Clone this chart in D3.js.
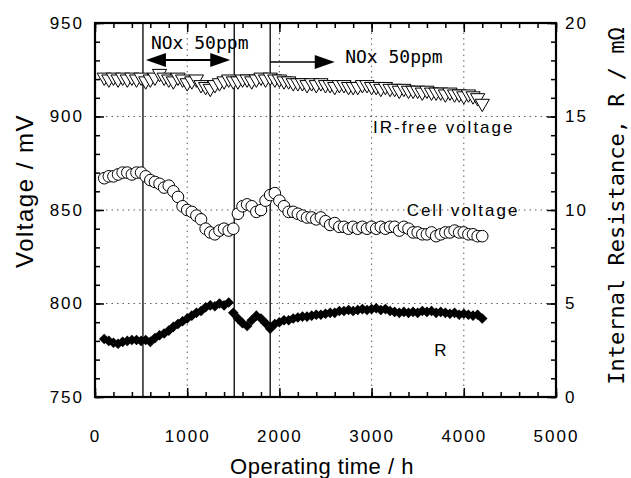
<!DOCTYPE html>
<html lang="en">
<head>
  <meta charset="UTF-8">
  <title>Operating time</title>
  <style>
    html, body { margin: 0; background: #fff; }
    svg { display: block; }
  </style>
</head>
<body>
  <svg id="chart" width="631" height="478"></svg>
  <script src="https://cdn.jsdelivr.net/npm/d3@7"></script>
  <script>
    // operating time (h) for every reading
    var hours = [100, 150, 200, 250, 300, 350, 400, 450, 500, 550, 600, 650, 700, 750, 800, 850, 900, 950,
      1000, 1050, 1100, 1150, 1200, 1250, 1300, 1350, 1400, 1450, 1500, 1550, 1600, 1650, 1700, 1750, 1800, 1850, 1900, 1950,
      2000, 2050, 2100, 2150, 2200, 2250, 2300, 2350, 2400, 2450, 2500, 2550, 2600, 2650, 2700, 2750, 2800, 2850, 2900, 2950,
      3000, 3050, 3100, 3150, 3200, 3250, 3300, 3350, 3400, 3450, 3500, 3550, 3600, 3650, 3700, 3750, 3800, 3850, 3900, 3950,
      4000, 4050, 4100, 4150, 4200]

    // IR-free voltage (mV)
    var irFreeVoltage = [921, 920, 921, 920, 921, 920, 921, 920, 921, 919, 920, 921, 923, 921, 920, 919, 921, 920,
      918, 919, 920, 917, 916, 915, 917, 918, 919, 920, 919, 919, 920, 920, 919, 920, 921, 920, 921, 920,
      920, 919, 919, 918, 918, 918, 917, 918, 917, 918, 917, 917, 916, 917, 917, 916, 916, 916, 917, 917,
      916, 916, 915, 916, 915, 915, 914, 915, 914, 914, 914, 913, 914, 913, 913, 913, 912, 913, 912, 912,
      911, 912, 911, 910, 907]

    // cell voltage (mV)
    var cellVoltage = [867, 868, 868, 869, 870, 870, 869, 870, 870, 868, 866, 865, 864, 862, 863, 860, 857, 852,
      850, 849, 847, 845, 840, 838, 837, 839, 840, 839, 840, 848, 852, 853, 852, 849, 850, 855, 858, 859,
      855, 852, 849, 849, 848, 847, 846, 846, 845, 846, 844, 842, 843, 841, 841, 840, 841, 840, 841, 840,
      841, 840, 841, 840, 841, 841, 839, 841, 840, 838, 838, 837, 837, 838, 836, 837, 838, 838, 839, 838,
      838, 837, 837, 836, 836]

    // internal resistance (mOhm)
    var resistance = [3.1, 3.0, 2.9, 2.85, 2.95, 3.0, 3.05, 3.05, 3.0, 3.05, 2.95, 3.15, 3.3, 3.4, 3.55, 3.75, 3.9, 4.05,
      4.2, 4.35, 4.5, 4.6, 4.8, 4.9, 4.85, 5.0, 4.9, 5.05, 4.5, 4.2, 3.95, 3.8, 4.1, 4.35, 4.2, 3.95, 3.65, 3.9,
      4.0, 4.1, 4.1, 4.2, 4.25, 4.3, 4.3, 4.35, 4.4, 4.4, 4.45, 4.5, 4.5, 4.6, 4.6, 4.65, 4.6, 4.65, 4.7, 4.65,
      4.7, 4.75, 4.65, 4.7, 4.6, 4.55, 4.5, 4.55, 4.5, 4.55, 4.5, 4.6, 4.55, 4.6, 4.5, 4.55, 4.5, 4.45, 4.5, 4.4,
      4.45, 4.4, 4.35, 4.4, 4.2]

    // NOx switching times (h)
    var noxLines = [520, 1510, 1900]

    var xTicks = [0, 1000, 2000, 3000, 4000, 5000]
    var vTicks = [750, 800, 850, 900, 950]
    var rTicks = [0, 5, 10, 15, 20]

    var svg = d3.select('#chart')
    var sans = '"Liberation Sans", Arial, sans-serif'
    var mono = '"DejaVu Sans Mono", monospace'

    var x = d3.scaleLinear().domain([0, 5000]).range([95, 556])
    var yV = d3.scaleLinear().domain([750, 950]).range([397, 23])
    var yR = d3.scaleLinear().domain([0, 20]).range([397, 23])

    var readings = hours.map((h, i) => ({ h: h, ir: irFreeVoltage[i], cell: cellVoltage[i], r: resistance[i] }))

    // dotted grid
    var grid = svg.append('g')
      .attr('stroke', '#333')
      .attr('stroke-width', 0.8)
      .attr('stroke-dasharray', '1.5,4')
    grid.selectAll('.gx')
      .data(xTicks.slice(1, -1))
      .join('line')
      .attr('x1', d => x(d)).attr('x2', d => x(d))
      .attr('y1', yV(750)).attr('y2', yV(950))
    grid.selectAll('.gy')
      .data([800, 850, 900])
      .join('line')
      .attr('class', 'gy')
      .attr('x1', x(0)).attr('x2', x(5000))
      .attr('y1', d => yV(d)).attr('y2', d => yV(d))

    // NOx on/off lines
    svg.append('g')
      .selectAll('line')
      .data(noxLines)
      .join('line')
      .attr('x1', d => x(d)).attr('x2', d => x(d))
      .attr('y1', yV(750)).attr('y2', yV(950))
      .attr('stroke', '#000')
      .attr('stroke-width', 1.3)

    // axes
    function styleAxis(g, showText) {
      g.select('.domain').remove()
      g.selectAll('line').attr('stroke', '#000').attr('stroke-width', 1.5)
      g.selectAll('text')
        .attr('font-family', sans)
        .attr('font-size', 17)
        .attr('letter-spacing', 2)
        .attr('fill', '#000')
      if (!showText) g.selectAll('text').remove()
    }

    svg.append('g').attr('transform', `translate(0,${yV(750)})`)
      .call(d3.axisBottom(x).tickValues(d3.range(0, 5001, 200)).tickSize(-5).tickFormat(''))
      .call(g => styleAxis(g, false))
    svg.append('g').attr('transform', `translate(0,${yV(750)})`)
      .call(d3.axisBottom(x).tickValues(xTicks).tickSize(-9).tickPadding(33).tickFormat(d3.format('d')))
      .call(g => styleAxis(g, true))
    svg.append('g').attr('transform', `translate(0,${yV(950)})`)
      .call(d3.axisTop(x).tickValues(d3.range(0, 5001, 200)).tickSize(-5).tickFormat(''))
      .call(g => styleAxis(g, false))
    svg.append('g').attr('transform', `translate(0,${yV(950)})`)
      .call(d3.axisTop(x).tickValues(xTicks).tickSize(-9).tickFormat(''))
      .call(g => styleAxis(g, false))

    svg.append('g').attr('transform', `translate(${x(0)},0)`)
      .call(d3.axisLeft(yV).tickValues(d3.range(750, 951, 10)).tickSize(-5).tickFormat(''))
      .call(g => styleAxis(g, false))
    svg.append('g').attr('transform', `translate(${x(0)},0)`)
      .call(d3.axisLeft(yV).tickValues(vTicks).tickSize(-9).tickPadding(11))
      .call(g => styleAxis(g, true))

    svg.append('g').attr('transform', `translate(${x(5000)},0)`)
      .call(d3.axisRight(yR).tickValues(d3.range(0, 21, 1)).tickSize(-5).tickFormat(''))
      .call(g => styleAxis(g, false))
    svg.append('g').attr('transform', `translate(${x(5000)},0)`)
      .call(d3.axisRight(yR).tickValues(rTicks).tickSize(-9).tickPadding(9))
      .call(g => styleAxis(g, true))

    // frame
    svg.append('rect')
      .attr('x', x(0)).attr('y', yV(950))
      .attr('width', x(5000) - x(0)).attr('height', yV(750) - yV(950))
      .attr('fill', 'none')
      .attr('stroke', '#000')
      .attr('stroke-width', 2.2)

    // R: filled diamonds
    svg.append('g')
      .selectAll('path')
      .data(readings)
      .join('path')
      .attr('d', d3.symbol(d3.symbolSquare, 56))
      .attr('transform', d => `translate(${x(d.h)},${yR(d.r)}) rotate(45)`)
      .attr('fill', '#000')

    // cell voltage: open circles
    svg.append('g')
      .selectAll('circle')
      .data(readings)
      .join('circle')
      .attr('cx', d => x(d.h))
      .attr('cy', d => yV(d.cell))
      .attr('r', 5.8)
      .attr('fill', '#fff')
      .attr('stroke', '#000')
      .attr('stroke-width', 1)

    // IR-free voltage: open down triangles
    svg.append('g')
      .selectAll('path')
      .data(readings)
      .join('path')
      .attr('d', d3.symbol(d3.symbolTriangle, 88))
      .attr('transform', d => `translate(${x(d.h)},${yV(d.ir)}) rotate(180)`)
      .attr('fill', '#fff')
      .attr('stroke', '#000')
      .attr('stroke-width', 1)

    // NOx arrows
    var arrows = svg.append('g').attr('stroke', '#000').attr('fill', '#000')
    function head(px, py, dir) {
      arrows.append('path')
        .attr('d', `M${px},${py} L${px - dir * 20},${py - 7} L${px - dir * 20},${py + 7} Z`)
        .attr('stroke', 'none')
    }
    var a1 = { x0: x(noxLines[0]) + 3, x1: x(noxLines[1]) - 4, y: 60 }
    arrows.append('line').attr('x1', a1.x0 + 10).attr('x2', a1.x1 - 10)
      .attr('y1', a1.y).attr('y2', a1.y).attr('stroke-width', 2)
    head(a1.x0, a1.y, -1)
    head(a1.x1, a1.y, 1)
    var a2 = { x0: x(noxLines[2]), x1: x(2600), y: 62 }
    arrows.append('line').attr('x1', a2.x0).attr('x2', a2.x1 - 10)
      .attr('y1', a2.y).attr('y2', a2.y).attr('stroke-width', 1.5)
    head(a2.x1, a2.y, 1)

    svg.append('text')
      .attr('x', x(noxLines[0]) + 8).attr('y', 49)
      .attr('font-family', mono).attr('font-size', 18)
      .text('NOx 50ppm')
    svg.append('text')
      .attr('x', x(noxLines[2]) + 75).attr('y', 63)
      .attr('font-family', mono).attr('font-size', 18)
      .text('NOx 50ppm')

    // series labels
    var labels = [
      { text: 'IR-free voltage', h: 3015, y: yV(891.2) },
      { text: 'Cell voltage', h: 3380, y: yV(847) },
      { text: 'R', h: 3680, y: yR(2.2) }
    ]
    svg.append('g')
      .selectAll('text')
      .data(labels)
      .join('text')
      .attr('x', d => x(d.h))
      .attr('y', d => d.y)
      .attr('font-family', sans)
      .attr('font-size', 17)
      .attr('letter-spacing', 2)
      .text(d => d.text)

    // axis titles
    svg.append('text')
      .attr('transform', 'translate(33,191) rotate(-90)')
      .attr('text-anchor', 'middle')
      .attr('font-family', sans)
      .attr('font-size', 24)
      .attr('letter-spacing', 1.5)
      .text('Voltage / mV')

    svg.append('text')
      .attr('transform', 'translate(624,206) rotate(-90)')
      .attr('text-anchor', 'middle')
      .attr('font-family', mono)
      .attr('font-size', 22)
      .text('Internal Resistance, R / mΩ')

    svg.append('text')
      .attr('x', 322).attr('y', 474)
      .attr('text-anchor', 'middle')
      .attr('font-family', sans)
      .attr('font-size', 22)
      .attr('letter-spacing', 0.5)
      .text('Operating time / h')
  </script>
</body>
</html>
